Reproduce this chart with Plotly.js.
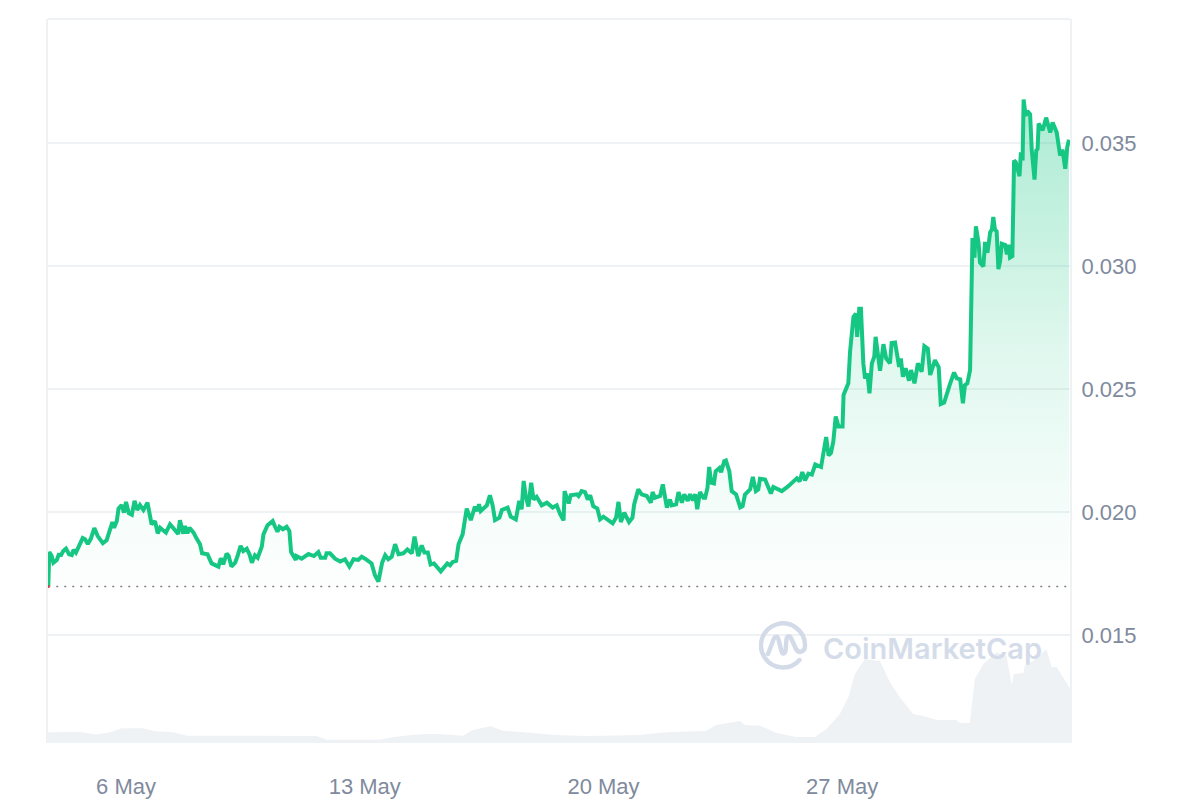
<!DOCTYPE html>
<html>
<head>
<meta charset="utf-8">
<script src="https://cdn.plot.ly/plotly-3.0.1.min.js"></script>
<style>
html, body { margin: 0; padding: 0; background: #fff; }
</style>
</head>
<body>
<div id="paper" style="width:1200px;height:800px"></div>
<script>
"use strict"

// days are counted from 1 May, so 32 means 1 Jun
var priceDays = [3.72,3.75,3.82,3.87,3.97,4.04,4.08,4.16,4.24,4.33,4.41,4.46,4.53,4.63,4.73,4.80,4.88,4.97,5.07,5.17,5.32,5.43,5.53,5.60,5.65,5.73,5.78,5.87,5.94,6.00,6.08,6.17,6.25,6.33,6.41,6.51,6.63,6.68,6.75,6.85,6.93,7.00,7.17,7.29,7.41,7.53,7.58,7.68,7.73,7.80,7.86,7.98,8.07,8.17,8.23,8.39,8.51,8.71,8.78,8.85,8.95,9.01,9.09,9.20,9.27,9.36,9.44,9.54,9.62,9.69,9.78,9.86,9.98,10.03,10.15,10.30,10.37,10.44,10.50,10.60,10.71,10.79,10.84,10.98,11.00,11.15,11.35,11.51,11.64,11.71,11.84,11.88,11.98,12.13,12.28,12.42,12.55,12.67,12.81,12.91,13.01,13.20,13.30,13.40,
13.51,13.60,13.69,13.79,13.89,13.99,14.13,14.25,14.38,14.46,14.57,14.67,14.75,14.85,14.93,15.03,15.23,15.42,15.50,15.58,15.68,15.75,15.87,15.99,16.11,16.23,16.30,16.35,16.40,16.58,16.67,16.75,16.82,16.95,17.02,17.19,17.28,17.43,17.53,17.60,17.66,17.72,17.80,17.88,17.95,18.04,18.19,18.34,18.51,18.63,18.73,18.83,18.86,18.98,19.04,19.22,19.27,19.36,19.46,19.54,19.61,19.70,19.82,19.90,20.00,20.19,20.27,20.37,20.44,20.51,20.61,20.75,20.85,20.90,21.02,21.12,21.27,21.39,21.44,21.51,21.66,21.74,21.86,21.95,22.00,22.13,22.20,22.30,22.37,22.47,22.54,22.62,22.69,22.75,22.83,22.93,
22.98,23.05,23.10,23.16,23.24,23.29,23.40,23.45,23.54,23.59,23.69,23.76,23.89,24.01,24.08,24.15,24.30,24.38,24.47,24.54,24.59,24.74,24.91,24.98,25.13,25.23,25.42,25.67,25.75,25.83,25.91,26.01,26.11,26.21,26.38,26.53,26.60,26.67,26.74,26.81,26.89,27.01,27.04,27.11,27.18,27.23,27.33,27.40,27.44,27.50,27.55,27.62,27.67,27.74,27.80,27.87,27.94,27.98,28.04,28.11,28.21,28.29,28.40,28.45,28.55,28.67,28.72,28.78,28.86,28.96,29.02,29.12,29.22,29.33,29.41,29.51,29.58,29.72,29.83,29.89,29.99,30.05,30.15,30.28,30.36,30.46,30.54,30.60,30.67,30.75,
30.80,30.82,30.88,30.92,31.00,31.04,31.14,31.19,31.26,31.34,31.39,31.43,31.48,31.53,31.58,31.63,31.68,31.78,31.83,31.88,31.92,31.99,32.04,32.09,32.20,32.24,32.29,32.32,32.38,32.43,32.51,32.56,32.64,32.69,32.73,32.76,32.88,32.98,33.10,33.17,33.29,33.39,33.46,33.54,33.60,33.65];

var priceValues = [.01699,.01837,.01821,.01794,.01805,.01832,.01821,.01841,.01851,.01828,.01825,.01846,.01835,.01862,.01894,.01889,.01870,.01892,.01935,.01902,.01873,.01885,.01932,.01959,.01936,.01963,.02014,.02028,.01997,.02041,.01995,.01989,.02045,.02008,.02028,.02008,.02038,.01991,.01950,.01963,.01913,.01936,.01916,.01950,.01932,.01911,.01966,.01912,.01943,.01913,.01936,.01916,.01892,.01869,.01832,.01828,.01791,.01778,.01812,.01787,.01831,.01821,.01778,.01794,.01821,.01862,.01841,.01851,.01828,.01794,.01824,.01814,.01859,.01909,.01946,.01963,.01940,.01920,.01940,.01930,.01940,.01923,.01837,.01805,.01821,.01810,.01829,.01821,.01837,.01814,.01814,.01832,.01832,.01810,.01799,.01808,.01778,.01808,.01805,.01818,.01810,.01791,.01743,.01717,
.01794,.01824,.01808,.01818,.01869,.01828,.01832,.01848,.01832,.01900,.01821,.01864,.01835,.01835,.01787,.01791,.01759,.01791,.01783,.01797,.01801,.01869,.01909,.02014,.01967,.02022,.02004,.02031,.02004,.02027,.02068,.02027,.01967,.01977,.02008,.02018,.01981,.01970,.02045,.02011,.02126,.02065,.02022,.02119,.02051,.02062,.02027,.02038,.02018,.02027,.01991,.01966,.02085,.02035,.02068,.02072,.02065,.02085,.02081,.02051,.02068,.02024,.02014,.01970,.01981,.01963,.01954,.01977,.02041,.01959,.01997,.01959,.01977,.02031,.02092,.02072,.02065,.02038,.02081,.02058,.02065,.02112,.02018,.02051,.02027,.02031,.02081,.02038,.02072,.02045,.02072,.02047,.02072,.02011,.02081,.02058,
.02058,.02098,.02183,.02119,.02116,.02166,.02179,.02162,.02206,.02209,.02166,.02085,.02071,.02019,.02024,.02071,.02092,.02143,.02085,.02092,.02135,.02132,.02075,.02102,.02094,.02085,.02105,.02137,.02124,.02162,.02129,.02156,.02152,.02193,.02183,.02305,.02230,.02240,.02287,.02388,.02348,.02348,.02476,.02496,.02523,.02651,.02793,.02806,.02712,.02826,.02826,.02604,.02543,.02563,.02482,.02604,.02631,.02712,.02637,.02574,.02682,.02624,.02604,.02687,.02689,.02590,.02624,.02550,.02584,.02534,.02577,.02523,.02604,.02570,.02674,.02664,.02557,.02617,.02588,.02439,.02445,.02476,.02516,.02567,.02543,.02539,.02442,.02516,.02523,.02577,
.02866,.03114,.03034,.03161,.03094,.03014,.02998,.03098,.03054,.03137,.03148,.03199,.03148,.03141,.02987,.03020,.03090,.03085,.03047,.03087,.03034,.03040,.03429,.03422,.03365,.03462,.03429,.03677,.03610,.03630,.03617,.03469,.03351,.03469,.03476,.03579,.03552,.03603,.03543,.03583,.03543,.03449,.03473,.03395,.03483,.03513];

var volumeDays = [3.68,4.65,5.14,5.53,5.87,6.51,6.85,7.39,7.78,11.59,11.88,13.45,13.84,14.43,14.82,15.16,15.89,16.14,16.68,17.07,17.65,18.6,19.5,21.07,21.6,22.0,23.0,23.3,24.0,24.15,24.59,25.08,25.66,26.2,26.54,26.93,27.18,27.37,27.67,28.11,28.4,28.69,29.08,29.38,29.77,30.35,30.45,30.74,30.89,31.14,31.53,31.82,31.97,32.03,32.31,32.36,32.6,32.99,33.14,33.29,33.71];
var volumeValues = [.107,.11,.085,.107,.147,.147,.117,.107,.073,.07,.033,.033,.06,.083,.09,.09,.073,.127,.167,.123,.107,.08,.07,.08,.1,.11,.12,.18,.22,.18,.173,.10,.06,.06,.14,.29,.457,.69,.84,.82,.607,.457,.29,.27,.23,.23,.20,.20,.64,.79,.907,.87,.58,.69,.70,.78,.82,.94,.76,.76,.53];

var tickDays = [6, 13, 20, 27];
var tickLabels = ["6 May", "13 May", "20 May", "27 May"];
var priceTicks = [0.015, 0.02, 0.025, 0.03, 0.035];
var priceTickLabels = ["0.015", "0.020", "0.025", "0.030", "0.035"];
var startPrice = 0.01697;

function dayToTime(day) {
    return Date.UTC(2024, 4, 1) + (day - 1) * 86400000;
}

var logo = '<svg xmlns="http://www.w3.org/2000/svg" width="50" height="50" viewBox="0 0 50 50">'
    + '<path d="M40.5 39 A 22 22 0 1 1 46 23.5 C 46.5 31 40 33 37 28 L 32 17 C 30.5 14 28 15 27.5 18 L 26.5 30 C 26 33 23.5 33.5 22.5 30.5 L 19.5 18.5 C 18.5 14.5 16 15 14.5 18.5 L 9 33" fill="none" stroke="#d3dae8" stroke-width="4.4" stroke-linecap="round" stroke-linejoin="round"/>'
    + '</svg>';

var volumeTrace = {
    x: volumeDays.map(dayToTime),
    y: volumeValues,
    yaxis: "y2",
    type: "scatter",
    mode: "lines",
    line: {width: 0, color: "#eff2f5"},
    fill: "tozeroy",
    fillcolor: "#eff2f5",
    hoverinfo: "skip"
};

var baseTrace = {
    x: [dayToTime(priceDays[0]), dayToTime(priceDays[priceDays.length - 1])],
    y: [startPrice, startPrice],
    type: "scatter",
    mode: "lines",
    line: {width: 1.5, color: "#808080", dash: "2px,6px"},
    hoverinfo: "skip"
};

var priceTrace = {
    x: priceDays.map(dayToTime),
    y: priceValues,
    type: "scatter",
    mode: "lines",
    line: {width: 4, color: "#16c784", shape: "linear"},
    fill: "tonexty",
    fillgradient: {
        type: "vertical",
        colorscale: [[0, "rgba(22,199,132,0.01)"], [0.15, "rgba(22,199,132,0.04)"], [0.5, "rgba(22,199,132,0.14)"], [1, "rgba(22,199,132,0.36)"]]
    },
    hoverinfo: "skip"
};

var startMark = {
    x: [dayToTime(priceDays[0])],
    y: [startPrice],
    type: "scatter",
    mode: "markers",
    marker: {size: 3, color: "#ea3943"},
    hoverinfo: "skip"
};

var layout = {
    width: 1200,
    height: 800,
    margin: {l: 48, r: 130, t: 19, b: 57},
    paper_bgcolor: "#ffffff",
    plot_bgcolor: "#ffffff",
    showlegend: false,
    font: {family: "Liberation Sans, Arial, sans-serif", size: 22, color: "#808a9d"},
    xaxis: {
        type: "date",
        range: [dayToTime(3.712), dayToTime(33.68)],
        tickmode: "array",
        tickvals: tickDays.map(dayToTime),
        ticktext: tickLabels,
        showgrid: false,
        zeroline: false,
        showline: false,
        ticks: "outside",
        ticklen: 24,
        tickcolor: "rgba(0,0,0,0)"
    },
    yaxis: {
        side: "right",
        range: [0.01061, 0.04004],
        tickmode: "array",
        tickvals: priceTicks,
        ticktext: priceTickLabels,
        showgrid: true,
        gridcolor: "#eff2f5",
        gridwidth: 2,
        zeroline: false,
        showline: true,
        mirror: true,
        linecolor: "#eff2f5",
        linewidth: 2,
        ticks: "outside",
        ticklen: 5,
        tickcolor: "rgba(0,0,0,0)"
    },
    yaxis2: {
        overlaying: "y",
        side: "left",
        range: [0, 7.24],
        visible: false
    },
    shapes: [
        {type: "line", xref: "paper", yref: "paper", x0: 0, x1: 1, y0: 1, y1: 1, line: {color: "#eff2f5", width: 2}}
    ],
    images: [{
        source: "data:image/svg+xml;charset=utf-8," + encodeURIComponent(logo),
        xref: "paper", yref: "paper",
        x: (759 - 48) / 1022, y: (743 - 621) / 724,
        sizex: 50 / 1022, sizey: 50 / 724,
        xanchor: "left", yanchor: "top",
        layer: "above"
    }],
    annotations: [{
        text: "CoinMarketCap",
        xref: "paper", yref: "paper",
        x: (821 - 48) / 1022, y: (743 - 648) / 724,
        xanchor: "left", yanchor: "middle",
        showarrow: false,
        font: {family: "Inter, sans-serif", size: 29, weight: 600, color: "#d5dce9"}
    }]
};

Plotly.newPlot("paper", [volumeTrace, baseTrace, priceTrace, startMark], layout, {displayModeBar: false, staticPlot: true});
</script>
</body>
</html>
